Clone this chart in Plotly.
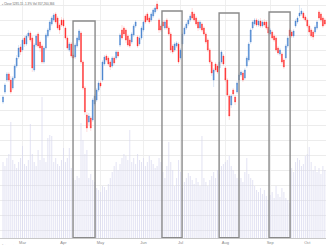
import plotly.graph_objects as go

# ---- data ----
day = list(range(166))

open_ = [4890,4940,5000,5030,5000,4960,5010,5070,5115,5165,5150,5210,5180,5220,5235,5210,5050,5175,5230,5190,
         5170,5090,5160,5220,5250,5280,5300,5330,5310,5275,5300,5300,5260,5210,5150,5180,5125,5115,5170,5200,
         5235,5090,4960,4825,4790,4810,4800,4880,4900,4950,4985,5000,5080,5120,5110,5090,5070,5110,5110,5140,
         5175,5250,5260,5250,5220,5200,5190,5225,5270,5215,5180,5210,5250,5320,5330,5310,5300,5320,5340,5380,
         5300,5270,5290,5260,5300,5260,5230,5170,5150,5170,5180,5110,5180,5230,5260,5280,5300,5340,5330,5310,
         5290,5260,5280,5260,5230,5200,5150,5090,5000,5080,5070,5060,5090,5120,5060,5000,4920,4875,4950,4915,
         4940,5000,5025,5035,5010,5070,5100,5190,5260,5280,5300,5275,5295,5270,5290,5290,5265,5230,5240,5220,
         5210,5160,5130,5130,5100,5110,5170,5250,5240,5220,5270,5290,5320,5330,5335,5315,5300,5270,5250,5240,
         5240,5260,5340,5330,5310,5300]
close = [4915,4975,5030,5000,4940,5010,5070,5110,5160,5140,5200,5180,5220,5235,5200,5060,5175,5220,5170,5160,
         5090,5160,5225,5250,5290,5310,5325,5290,5260,5250,5275,5270,5210,5160,5180,5120,5110,5175,5210,5245,
         5090,4960,4840,4760,4820,4760,4900,4920,4950,4985,4970,5090,5115,5100,5080,5065,5110,5085,5140,5120,
         5225,5210,5230,5200,5175,5170,5230,5270,5290,5170,5210,5260,5290,5290,5300,5290,5330,5350,5360,5355,
         5250,5250,5270,5290,5260,5230,5150,5140,5180,5185,5090,5150,5230,5260,5280,5300,5320,5310,5300,5280,
         5260,5290,5250,5230,5190,5150,5090,5035,5050,5050,5040,5090,5140,5080,5000,4925,4820,4920,4930,4890,
         4985,5025,5040,5000,5050,5110,5180,5250,5290,5300,5275,5295,5270,5290,5275,5260,5235,5250,5210,5200,
         5150,5135,5150,5090,5065,5170,5210,5220,5220,5245,5295,5310,5335,5345,5310,5300,5270,5240,5220,5215,
         5265,5290,5310,5300,5270,5280]
high = [4925,4985,5040,5040,5020,5020,5080,5125,5175,5180,5210,5220,5230,5250,5245,5220,5185,5230,5240,5200,
        5180,5170,5235,5260,5300,5320,5335,5340,5320,5285,5315,5310,5270,5220,5190,5190,5135,5185,5220,5255,
        5245,5100,4970,4840,4835,4820,4910,4930,4960,4995,4995,5100,5125,5130,5120,5100,5120,5120,5150,5150,
        5235,5275,5270,5260,5230,5210,5240,5280,5300,5225,5220,5270,5300,5330,5340,5320,5340,5360,5370,5395,
        5310,5280,5300,5300,5310,5270,5240,5180,5190,5195,5190,5160,5240,5270,5290,5310,5330,5360,5340,5320,
        5300,5300,5290,5270,5240,5210,5160,5100,5060,5090,5080,5100,5150,5130,5070,5010,4930,4930,4960,4925,
        4995,5035,5050,5045,5060,5120,5190,5260,5300,5310,5310,5305,5310,5300,5305,5300,5275,5260,5250,5230,
        5220,5170,5160,5140,5110,5180,5220,5260,5250,5255,5305,5320,5375,5360,5345,5325,5310,5280,5260,5250,
        5275,5300,5350,5340,5320,5310]
low = [4880,4930,4990,4990,4930,4950,5000,5060,5105,5125,5140,5165,5170,5210,5190,5040,5040,5165,5160,5140,
       5080,5080,5150,5210,5240,5270,5290,5280,5250,5230,5265,5260,5200,5150,5140,5110,5100,5105,5160,5190,
       5080,4950,4825,4740,4775,4745,4790,4870,4890,4940,4960,4990,5070,5090,5070,5050,5060,5075,5100,5110,
       5165,5200,5220,5185,5165,5160,5180,5215,5260,5160,5170,5200,5240,5280,5290,5280,5290,5310,5330,5345,
       5235,5240,5260,5250,5250,5220,5135,5130,5140,5160,5080,5100,5170,5220,5250,5270,5290,5300,5290,5270,
       5245,5250,5240,5220,5180,5140,5080,5020,4965,5040,5030,5050,5080,5070,4990,4915,4800,4860,4920,4875,
       4930,4990,5015,4990,5000,5060,5090,5180,5250,5270,5265,5265,5260,5260,5265,5250,5225,5220,5200,5190,
       5140,5125,5120,5080,5055,5100,5160,5210,5210,5210,5260,5280,5310,5320,5300,5290,5260,5225,5210,5200,
       5230,5250,5300,5290,5260,5270]
volume = [380,360,400,420,580,390,370,350,380,400,460,370,360,390,570,420,380,360,440,390,
          705,400,380,500,515,510,380,400,370,360,390,450,380,400,450,350,300,290,310,300,
          575,490,420,440,300,320,290,280,250,240,230,260,255,240,270,300,330,360,380,340,
          370,400,420,410,390,540,380,400,370,420,390,380,400,360,380,410,390,370,350,360,
          400,380,330,300,360,480,380,340,260,300,390,330,250,280,300,325,310,290,270,300,
          280,260,510,300,280,260,290,310,330,300,340,320,360,370,380,390,410,360,340,320,
          300,290,300,280,330,400,320,300,290,260,240,230,250,220,240,210,190,215,230,200,
          260,220,205,250,230,200,190,175,350,330,380,400,390,360,370,410,420,455,380,340,
          360,330,350,320,360,340]

month_pos = [10, 31, 50, 72, 91, 114, 137, 156]
month_lbl = ["Mar", "Apr", "May", "Jun", "Jul", "Aug", "Sep", "Oct"]

zone_start = [35.9, 81.5, 110.8, 136.4]
zone_end = [47.2, 91.8, 121.0, 147.2]
zone_top = [5295, 5345, 5335, 5340]

title_txt = "▪ Close 5285.15 -1.3% Vol 357,260,366"
credit_txt = "© StockCharts.com"

UP = "#4a86d0"
DN = "#ff2b2b"

body_hi = [max(o, c) for o, c in zip(open_, close)]
body_lo = [min(o, c) for o, c in zip(open_, close)]

fig = go.Figure()
fig.add_trace(go.Bar(x=day, y=volume, yaxis="y2", marker=dict(color="rgba(214,214,238,0.7)", line_width=0),
                     width=0.5, showlegend=False, hoverinfo="skip"))
fig.add_trace(go.Candlestick(x=day, open=open_, high=high, low=low, close=close,
                             increasing=dict(line=dict(color="rgba(150,185,230,0.6)", width=0.6), fillcolor="rgba(0,0,0,0)"),
                             decreasing=dict(line=dict(color="rgba(255,160,160,0.6)", width=0.6), fillcolor="rgba(0,0,0,0)"),
                             whiskerwidth=0, showlegend=False))
fig.add_trace(go.Candlestick(x=day, open=open_, high=body_hi, low=body_lo, close=close,
                             increasing=dict(line=dict(color=UP, width=0.3), fillcolor=UP),
                             decreasing=dict(line=dict(color=DN, width=0.3), fillcolor=DN),
                             showlegend=False))

for s, e, t in zip(zone_start, zone_end, zone_top):
    fig.add_shape(type="rect", xref="x", yref="y", x0=s, x1=e, y0=4212, y1=t,
                  line=dict(color="#8a8a8a", width=1.4), fillcolor="rgba(0,0,0,0)", layer="above")

fig.add_annotation(x=0, y=1, xref="paper", yref="paper", xanchor="left", yanchor="top",
                   text=title_txt, showarrow=False, font=dict(size=3, color="#666", family="Liberation Sans"))
fig.add_annotation(x=0, y=0, xref="paper", yref="paper", xanchor="left", yanchor="top", yshift=-4,
                   text=credit_txt, showarrow=False, font=dict(size=2, color="#777", family="Liberation Sans"))

fig.update_layout(
    width=326, height=245, margin=dict(l=0, r=0, t=0, b=7),
    paper_bgcolor="white", plot_bgcolor="white",
    boxgap=0.3,
    xaxis=dict(range=[-1.54, 165.6], tickvals=month_pos, ticktext=month_lbl, showgrid=True,
               gridcolor="#efefef", gridwidth=0.8, zeroline=False, showline=True, linecolor="#c8c8c8",
               linewidth=1, ticks="", tickfont=dict(size=4, color="#888", family="Liberation Sans"),
               rangeslider=dict(visible=False), fixedrange=True),
    yaxis=dict(range=[4210, 5400], tick0=5300, dtick=75, showgrid=True, gridcolor="#ececec",
               gridwidth=0.8, showticklabels=False, zeroline=False, ticks=""),
    yaxis2=dict(range=[0, 1190], overlaying="y", showgrid=False, showticklabels=False, zeroline=False),
)
fig.write_html("out.html")
